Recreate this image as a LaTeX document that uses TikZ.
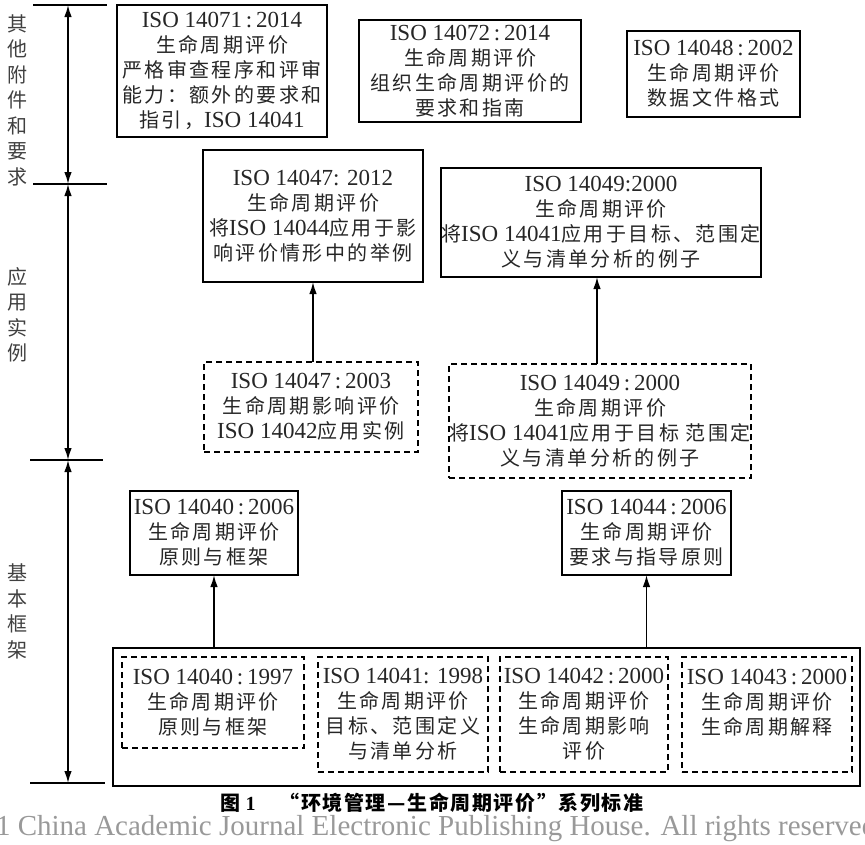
\documentclass[tikz,border=0pt]{standalone}
\usepackage{fontspec}
\setmainfont{Liberation Serif}
\newfontfamily\cjk{Noto Sans CJK SC}[LetterSpace=12]
\newfontfamily\cjkplain{Noto Sans CJK SC}
\newfontfamily\cjkcap{Noto Sans CJK SC}[LetterSpace=8]
\usetikzlibrary{arrows.meta}
\newcommand\zh[1]{{\cjk\fontsize{20}{25}\selectfont #1}}
\begin{document}
\begin{tikzpicture}[x=1pt,y=-1pt,
  every node/.style={inner sep=0pt,outer sep=0pt},
  boxtext/.style={align=center, text=black!85, font=\fontsize{23}{25}\selectfont},
  solidbox/.style={boxtext, draw=black, line width=2pt},
  dashbox/.style={boxtext, draw=black, line width=1.6pt, dash pattern=on 6pt off 4pt},
  conn/.style={line width=1.5pt, -{Latex[length=12pt,width=7.5pt]}},
  axisline/.style={line width=1.5pt, {Latex[length=12pt,width=7.5pt]}-{Latex[length=12pt,width=7.5pt]}},
  tickline/.style={line width=2pt},
  sidelabel/.style={align=center, text=black!75, font=\cjkplain\fontsize{20}{25.5}\selectfont}
]
\useasboundingbox (0,0) rectangle (865,844);

% left axis
\coordinate (t1) at (68,5);
\coordinate (t2) at (68,184);
\coordinate (t3) at (68,460);
\coordinate (t4) at (68,783);
\draw[tickline] ([xshift=-35pt]t1) -- ([xshift=39pt]t1);
\draw[tickline] ([xshift=-35pt]t2) -- ([xshift=39pt]t2);
\draw[tickline] ([xshift=-38pt]t3) -- ([xshift=35pt]t3);
\draw[tickline] ([xshift=-38pt]t4) -- ([xshift=37pt]t4);
\draw[axisline] (t1) -- (t2);
\draw[axisline] (t2) -- (t3);
\draw[axisline] (t3) -- (t4);
\node[sidelabel] (l1) at (17,100) {其\\他\\附\\件\\和\\要\\求};
\node[sidelabel] (l2) at (17,315) {应\\用\\实\\例};
\node[sidelabel] (l3) at (18,611.5) {基\\本\\框\\架};

% top row
\node[solidbox, minimum width=210pt, minimum height=132pt] (b14071) at (222,71)
  {ISO 14071\,:\,2014\\ \zh{生命周期评价}\\ \zh{严格审查程序和评审}\\ \zh{能力：额外的要求和}\\ \zh{指引，}ISO 14041};
\node[solidbox, minimum width=222pt, minimum height=102pt] (b14072) at (470,71)
  {ISO 14072\,:\,2014\\ \zh{生命周期评价}\\ \zh{组织生命周期评价的}\\ \zh{要求和指南}};
\node[solidbox, minimum width=173pt, minimum height=86pt] (b14048) at (713.5,74)
  {ISO 14048\,:\,2002\\ \zh{生命周期评价}\\ \zh{数据文件格式}};

% application examples
\node[solidbox, minimum width=220pt, minimum height=132pt] (b14047a) at (313,216)
  {ISO 14047: 2012\\ \zh{生命周期评价}\\ \zh{将}ISO 14044\zh{应用于影}\\ \zh{响评价情形中的举例}};
\node[solidbox, minimum width=308pt, minimum height=109pt] (b14049a) at (601,222.5)
  {ISO 14049:2000\\ \zh{生命周期评价}\\ \zh{将}ISO 14041\zh{应用于目标、范围定}\\ \zh{义与清单分析的例子}};
\node[dashbox, minimum width=214pt, minimum height=90pt] (d14047) at (311,407)
  {ISO 14047\,:\,2003\\ \zh{生命周期影响评价}\\ ISO 14042\zh{应用实例}};
\node[dashbox, minimum width=302pt, minimum height=114pt] (d14049) at (600,421)
  {ISO 14049\,:\,2000\\ \zh{生命周期评价}\\ \zh{将}ISO 14041\zh{应用于目标 范围定}\\ \zh{义与清单分析的例子}};
\draw[conn] (d14047.north -| b14047a.south) -- (b14047a.south);
\draw[conn] (d14049.north -| 597,0) -- (b14049a.south -| 597,0);

% basic framework
\node[solidbox, minimum width=168pt, minimum height=84pt] (b14040) at (214,533)
  {ISO 14040\,:\,2006\\ \zh{生命周期评价}\\ \zh{原则与框架}};
\node[solidbox, minimum width=169pt, minimum height=84pt] (b14044) at (646.5,533)
  {ISO 14044\,:\,2006\\ \zh{生命周期评价}\\ \zh{要求与指导原则}};
\node[solidbox, minimum width=747pt, minimum height=138pt] (big) at (486.5,717) {};
\node[dashbox, minimum width=182pt, minimum height=91pt] (i1) at (213,702.5)
  {ISO 14040\,:\,1997\\ \zh{生命周期评价}\\ \zh{原则与框架}};
\node[dashbox, minimum width=170pt, minimum height=115pt] (i2) at (403,714.5)
  {ISO 14041: 1998\\ \zh{生命周期评价}\\ \zh{目标、范围定义}\\ \zh{与清单分析}};
\node[dashbox, minimum width=168pt, minimum height=115pt] (i3) at (584,714.5)
  {ISO 14042\,:\,2000\\ \zh{生命周期评价}\\ \zh{生命周期影响}\\ \zh{评价}};
\node[dashbox, minimum width=170pt, minimum height=115pt] (i4) at (767,714.5)
  {ISO 14043\,:\,2000\\ \zh{生命周期评价}\\ \zh{生命周期解释}\\ \mbox{}};
\draw[conn] (big.north -| b14040.south) -- (b14040.south);
\draw[conn] (big.north -| b14044.south) -- (b14044.south);

% caption and watermark
\node[text=black!40, anchor=west, font=\fontsize{29}{29}\selectfont] (wm) at (-4,829)
  {1 China Academic Journal Electronic Publishing House. All rights reserved.};
\node[text=black, font=\bfseries\fontsize{20}{22}\selectfont] (cap) at (432,803)
  {{\cjkcap\bfseries 图} 1\hspace{1.2em}{\cjkcap\bfseries “环境管理—生命周期评价”系列标准}};
\end{tikzpicture}
\end{document}
